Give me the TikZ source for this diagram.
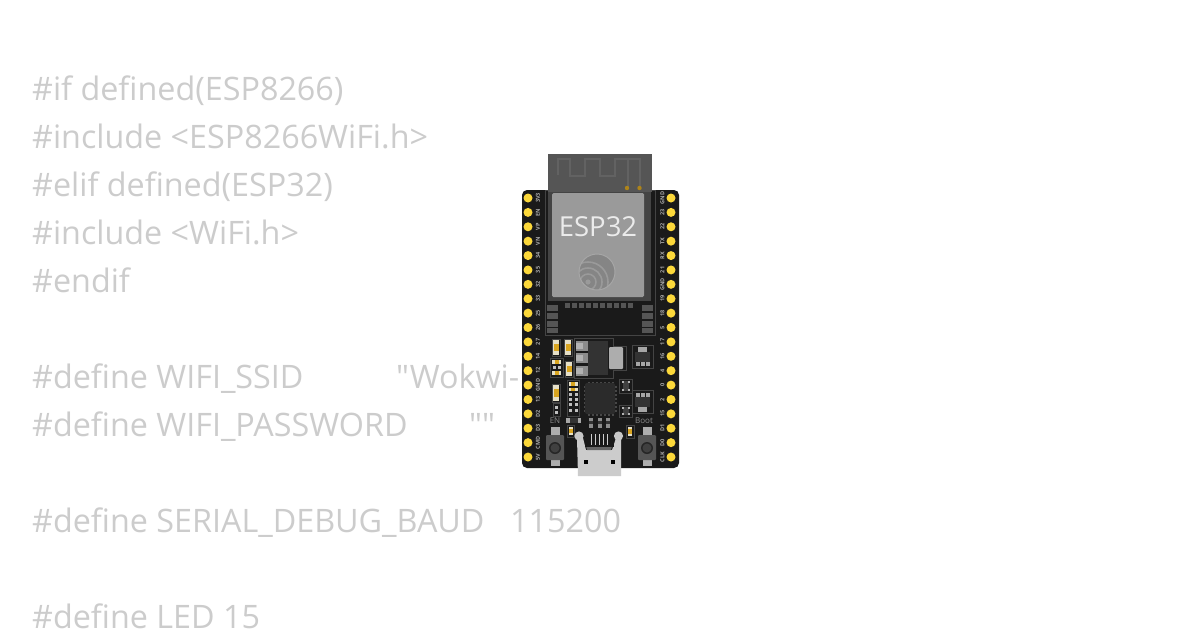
\documentclass[tikz,border=0pt]{standalone}
\usepackage{fontspec}
\newfontfamily\codefont{Open Sans}
\setmainfont{Open Sans}
\definecolor{codegray}{HTML}{CCCCCC}
\definecolor{pcb}{HTML}{1A1A1A}
\definecolor{pinyellow}{HTML}{FCD83A}
\definecolor{shieldgray}{HTML}{9A9A9A}
\definecolor{antgray}{HTML}{555555}
\definecolor{tracegray}{HTML}{626262}
\definecolor{ln}{HTML}{444444}
\definecolor{silver}{HTML}{CCCCCC}
\definecolor{cream}{HTML}{E6E0C8}
\definecolor{gold}{HTML}{D9A520}
\tikzset{
  codeline/.style={anchor=base west,inner sep=0pt,text=codegray,font=\codefont\fontsize{32.3}{32.3}\selectfont},
  pinlabel/.style={rotate=90,inner sep=0pt,text=white!68!black,font=\fontsize{5.5}{5.5}\selectfont\bfseries},
  silklabel/.style={inner sep=0pt,text=white!55!black,font=\fontsize{8}{8}\selectfont},
  outline/.style={draw=ln,line width=0.7pt},
  padgray/.style={fill=antgray},
  pindot/.style={fill=pinyellow}
}
% vertical chip: x0 y0 x1 y1
\newcommand{\smdv}[4]{%
  \draw[outline,fill=pcb] (#1,#2) rectangle (#3,#4);
  \fill[cream] (#1+1,#2+1) rectangle (#3-1,#4-1);
  \fill[gold] (#1+1.5,#2+5) rectangle (#3-1.5,#4-5);
}
\newcommand{\smdh}[4]{%
  \fill[cream] (#1,#2) rectangle (#3,#4);
  \fill[gold] (#1+2.5,#2) rectangle (#3-2.5,#4);
}
\newcommand{\sotchip}[7]{% outline x0 y0 x1 y1, big pad y, small pads y, body
  \draw[outline,fill=pcb] (#1,#2) rectangle (#3,#4);
  \fill[white!20!black] (#1+3,#7) rectangle (#3-3,#7+10);
  \fill[white!65!black] (#1+6,#5) rectangle (#3-6,#5+5);
  \foreach \q in {636,641,646} \fill[white!65!black] (\q,#6) rectangle (\q+4,#6+4);
}
\begin{document}
\begin{tikzpicture}[x=1pt,y=-1pt]
\useasboundingbox (0,0) rectangle (1200,630);
\fill[white] (0,0) rectangle (1200,630);
% code text
\node[codeline] (l1) at (32,100) {\#if defined(ESP8266)};
\node[codeline] (l2) at (32,148) {\#include <ESP8266WiFi.h>};
\node[codeline] (l3) at (32,196) {\#elif defined(ESP32)};
\node[codeline] (l4) at (32,244) {\#include <WiFi.h>};
\node[codeline] (l5) at (32,292) {\#endif};
\node[codeline] (l6a) at (32,388) {\#define WIFI\_SSID};
\node[codeline] (l6b) at (396,388) {"Wokwi-};
\node[codeline] (l7a) at (32,436) {\#define WIFI\_PASSWORD};
\node[codeline] (l7b) at (469,436) {""};
\node[codeline] (l8a) at (32,532) {\#define SERIAL\_DEBUG\_BAUD};
\node[codeline] (l8b) at (510,532) {115200};
\node[codeline] (l9) at (32,628) {\#define LED 15};
% board
\fill[pcb,rounded corners=5pt] (522,190) rectangle (679,468);
% pins
\foreach \i/\a/\b in {0/3V3/GND,1/EN/23,2/VP/22,3/VN/TX,4/34/RX,5/35/21,6/32/GND,7/33/19,8/25/18,9/26/5,10/27/17,11/14/16,12/12/4,13/GND/0,14/13/2,15/D2/15,16/D3/D1,17/CMD/D0,18/5V/CLK}{
  \pgfmathsetmacro{\yy}{198+\i*14.39}
  \fill[pindot] (528,\yy) circle[radius=4.5];
  \fill[pindot] (671,\yy) circle[radius=4.5];
  \node[pinlabel] (la\i) at (538,\yy) {\a};
  \node[pinlabel] (lb\i) at (662.5,\yy) {\b};
}
% module
\draw[outline,fill=pcb] (545,190) rectangle (655,335);
\fill[ln] (548,190) rectangle (651,301);
\fill[antgray] (548,154) rectangle (652,192);
\draw[tracegray,line width=2.5pt,line join=miter]
  (558,175) -- (558,159) -- (570,159) -- (570,176) -- (585,176) -- (585,159) -- (600,159)
  -- (600,176) -- (615,176) -- (615,159) -- (640,159) -- (640,187);
\draw[tracegray,line width=2.5pt] (628,159) -- (628,187);
\fill[gold!80!black] (627,188) circle[radius=2.2];
\fill[gold!80!black] (639.5,188) circle[radius=2.2];
\fill[shieldgray,rounded corners=1.5pt] (552,193) rectangle (644,297);
\node[inner sep=0pt,text=white!92!black,font=\fontsize{27.5}{27.5}\selectfont] (esp) at (598,227) {ESP32};
% logo
\fill[white!52!black] (597,272) circle[radius=18];
\begin{scope}
  \clip (597,272) circle[radius=18];
  \draw[shieldgray,line width=1.5pt] (588,282) circle[radius=8];
  \draw[shieldgray,line width=1.6pt] (588,282) circle[radius=14];
  \draw[shieldgray,line width=1.6pt] (588,282) circle[radius=20];
\end{scope}
\draw[white!65!black,line width=1pt] (597,272) circle[radius=18];
\fill[shieldgray] (588,282) circle[radius=2.6];
% module pads
\foreach \i in {0,...,9} \fill[padgray] (564.5+\i*7.1,303) rectangle +(5,5);
\foreach \a/\b in {305/311,313/319,321/327,328/333}{
  \fill[padgray] (547,\a) rectangle (558,\b);
  \fill[padgray] (642,\a) rectangle (653,\b);
}
% small parts top
\smdv{552}{339}{560}{356}
\smdv{564}{339}{572}{356}
\smdv{565}{361}{573}{377}
\draw[outline] (550,358) rectangle (563,377);
\smdh{552}{360}{561}{364}
\smdh{552}{371}{561}{375}
\foreach \p in {553,558} \fill[white!75!black] (\p,366) rectangle +(3,3);
% regulator
\draw[outline,fill=pcb] (574,338) -- (613,338) -- (613,346) -- (626,346) -- (626,370) -- (613,370) -- (613,378) -- (574,378) -- cycle;
\fill[white!20!black] (588,341) rectangle (608,375);
\foreach \a/\b in {341/351,353/363,366/376}{
  \fill[white!55!black] (576,\a) rectangle (588,\b);
  \fill[white!70!black] (576,\a+2) rectangle (583,\b-2);
}
\fill[white!68!black,rounded corners=1pt] (609,347) rectangle (623,369);
% SOT chips
\sotchip{632}{345}{653}{368}{347}{362}{352}
\sotchip{632}{390}{653}{413}{407}{393}{397}
% MCU
\fill[white!17!black,rounded corners=2pt] (585,383) rectangle (615,414);
\foreach \i in {0,...,6}{
  \fill[white!28!black] (588+\i*4,381.5) rectangle +(1.6,1.5);
  \fill[white!28!black] (588+\i*4,414) rectangle +(1.6,1.5);
  \fill[white!28!black] (583.5,386+\i*4) rectangle +(1.5,1.6);
  \fill[white!28!black] (615,386+\i*4) rectangle +(1.5,1.6);
}
% small packs
\foreach \y/\h in {379/14,405/12}{
  \draw[outline] (619,\y) rectangle (632,\y+\h);
  \fill[white!25!black] (622.5,\y+2) rectangle (628.5,\y+\h-2);
  \foreach \p in {621.5,627.5}{
    \fill[white!70!black] (\p,\y+2) rectangle +(2,2);
    \fill[white!70!black] (\p,\y+\h-4) rectangle +(2,2);
  }
}
% resistor array
\draw[outline] (567,380) rectangle (579,416);
\smdh{568.5}{382}{577.5}{385.5}
\smdh{568.5}{387.5}{577.5}{391}
\foreach \r in {393,398,403,409}
  \foreach \p in {569,574.5} \fill[white!75!black] (\p,\r) rectangle +(3,3);
% left parts
\smdv{552}{384}{560}{402}
\draw[outline] (553,403) rectangle (560,416);
\foreach \r in {405.5,411} \fill[white!75!black] (555,\r) rectangle +(3,3);
% silk
\node[silklabel] (en) at (555,421) {EN};
\node[silklabel] (boot) at (644,421) {Boot};
% small horizontal part
\fill[white!65!black] (566,418) rectangle (581,423);
\fill[white!20!black] (569.5,418) rectangle (577.5,423);
% three pads
\foreach \p in {589,597.5,606}{
  \fill[white!55!black] (\p,418) rectangle +(4,10);
  \fill[white!20!black] (\p,421) rectangle +(4,3);
}
% small yellow parts
\draw[outline,fill=pcb] (567,425) rectangle (574,437);
\fill[cream] (568.5,427) rectangle (572.5,435);
\fill[gold] (568.5,429) rectangle (572.5,433);
\draw[outline,fill=pcb] (626,425) rectangle (634,438);
\fill[cream] (628,427) rectangle (632,436);
\fill[gold] (628,429) rectangle (632,434);
% buttons
\foreach \c in {555,647}{
  \fill[white!68!black] (\c-4.5,427) rectangle (\c+4.5,466);
  \fill[antgray,rounded corners=1pt] (\c-9,435) rectangle (\c+9,460);
  \fill[white!15!black] (\c,448) circle[radius=6];
  \fill[white!25!black] (\c,448) circle[radius=4.5];
}
% USB
\fill[silver] (577,438) -- (583,438) -- (586,450) -- (612,450) -- (616,438) -- (621,438) -- (621,476) -- (578,476) -- cycle;
\fill[white!40!black] (586,446) -- (612,446) -- (611,450) -- (587,450) -- cycle;
\fill[pcb] (585,433) rectangle (614,447);
\foreach \p in {590.5,594.5,598.5,602.5,606.5} \fill[white!80!black] (\p,433.5) rectangle +(1.4,11);
\fill[white!78!black] (579,436) circle[radius=4.6];
\fill[white!78!black] (618.5,436) circle[radius=4.6];
\fill[black] (584,460) rectangle +(4,4);
\fill[black] (611,460) rectangle +(4,4);
\end{tikzpicture}
\end{document}
